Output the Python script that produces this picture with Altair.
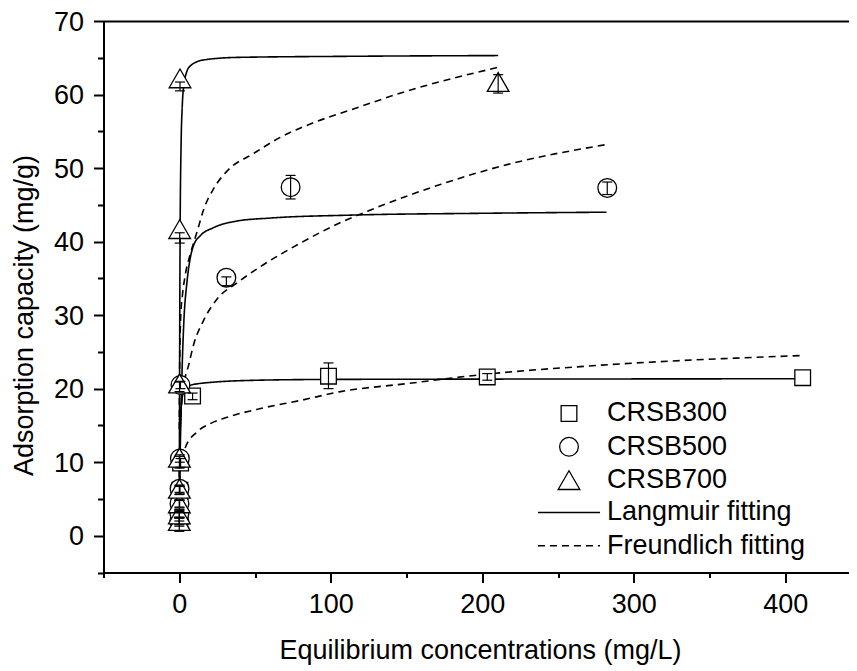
import altair as alt
import pandas as pd

FONT = "Liberation Sans"

# ---------------- data ----------------
series_names = ["CRSB300", "CRSB500", "CRSB700"]
fit_names = ["Langmuir fitting", "Freundlich fitting"]

# measured points (equilibrium concentration, adsorption capacity, error bar low/high)
x300 = [0.05, 0.1, 0.2, 0.4, 0.9, 8.8, 98.5, 203.3, 411.5]
q300 = [1.9, 2.9, 4.3, 6.2, 9.9, 19.0, 21.7, 21.6, 21.5]
lo300 = [1.3, 2.4, 3.8, 5.7, 9.3, 18.5, 20.0, 21.15, 21.5]
hi300 = [2.5, 3.4, 4.8, 6.7, 10.5, 19.4, 23.5, 22.05, 21.5]

x500 = [0.05, 0.1, 0.15, 0.2, 0.4, 0.8, 31.1, 73.5, 282.5]
q500 = [2.0, 3.0, 4.4, 6.4, 10.5, 20.5, 35.1, 47.4, 47.3]
lo500 = [1.5, 2.5, 3.9, 5.9, 10.0, 20.0, 34.0, 45.8, 46.4]
hi500 = [2.5, 3.5, 4.9, 6.9, 11.0, 21.0, 35.2, 49.0, 48.1]

x700 = [0.02, 0.04, 0.06, 0.08, 0.1, 0.2, 0.3, 0.5, 210.5]
q700 = [2.0, 2.9, 4.4, 6.4, 10.6, 20.7, 41.7, 62.2, 61.7]
lo700 = [0.6, 2.0, 3.6, 5.6, 9.2, 19.6, 39.8, 60.5, 60.2]
hi700 = [2.4, 3.3, 4.8, 6.8, 10.8, 20.9, 41.2, 61.7, 62.7]

# fitted curves
L300_x = [0.05, 0.3, 0.8, 1.5, 2.5, 4, 8, 11.7, 20.5, 42.6, 93, 200, 279, 410]
L300_q = [2.0, 9.5, 15.5, 18.0, 19.3, 20.0, 20.5, 20.65, 20.85, 21.1, 21.25, 21.3, 21.32, 21.35]

L500_x = [0.05, 0.4, 1.0, 1.8, 2.9, 5.1, 7.3, 9.5, 13.9, 22.7, 38.2, 60, 113, 200, 282]
L500_q = [1.5, 8.5, 15.0, 22.0, 28.5, 34.5, 37.8, 39.5, 40.8, 41.9, 42.8, 43.2, 43.6, 43.85, 44.0]

L700_x = [0.02, 0.2, 0.6, 1.2, 2.0, 3.0, 4.5, 7.3, 16, 38, 113, 210.5]
L700_q = [1.5, 20.0, 42.0, 53.0, 58.5, 61.3, 62.8, 63.9, 64.7, 65.05, 65.2, 65.3]

F300_x = [0.05, 0.5, 1.5, 4, 11.7, 20.5, 31.6, 53.6, 80, 106.6, 150.8, 194.9, 278.8, 410]
F300_q = [5.5, 8.5, 10.2, 12.0, 14.1, 15.25, 16.1, 17.3, 18.4, 19.6, 20.7, 21.8, 23.2, 24.5]

F500_x = [0.05, 0.5, 1.5, 3, 6.2, 9.5, 16.1, 25, 38.2, 53.6, 80, 106.6, 128.7, 172.8, 217, 282]
F500_q = [8.0, 14.0, 17.8, 20.5, 23.2, 26.0, 29.3, 32.2, 34.4, 36.6, 39.8, 42.6, 44.5, 47.8, 50.5, 53.2]

F700_x = [0.02, 0.2, 1, 2, 4, 7.3, 11.7, 16, 22.7, 31.6, 49.2, 66.9, 89, 113, 150.8, 210.4]
F700_q = [14.5, 22.0, 30.0, 32.5, 35.5, 38.3, 41.3, 44.3, 47.2, 49.6, 52.0, 54.2, 56.2, 57.9, 60.5, 63.7]

x_ticks = [-50, 0, 50, 100, 150, 200, 250, 300, 350, 400]
y_ticks = [-5, 0, 5, 10, 15, 20, 25, 30, 35, 40, 45, 50, 55, 60, 65, 70]

# ---------------- tables ----------------
pts_rows, err_rows, cap_rows = [], [], []
for name, xs, qs, los, his in [
    ("CRSB300", x300, q300, lo300, hi300),
    ("CRSB500", x500, q500, lo500, hi500),
    ("CRSB700", x700, q700, lo700, hi700),
]:
    for c, q, lo, hi in zip(xs, qs, los, his):
        pts_rows.append({"C": c, "q": q, "series": name})
        if hi - lo > 0:
            err_rows.append({"C": c, "q": lo, "hi": hi})
            cap_rows.append({"C": c, "q": lo})
            cap_rows.append({"C": c, "q": hi})
pts_df = pd.DataFrame(pts_rows)
err_df = pd.DataFrame(err_rows)
cap_df = pd.DataFrame(cap_rows)

fit_rows = []
for curve, fit, xs, qs in [
    ("L300", "Langmuir fitting", L300_x, L300_q),
    ("L500", "Langmuir fitting", L500_x, L500_q),
    ("L700", "Langmuir fitting", L700_x, L700_q),
    ("F300", "Freundlich fitting", F300_x, F300_q),
    ("F500", "Freundlich fitting", F500_x, F500_q),
    ("F700", "Freundlich fitting", F700_x, F700_q),
]:
    for c, q in zip(xs, qs):
        fit_rows.append({"C": c, "q": q, "curve": curve, "fit": fit})
fit_df = pd.DataFrame(fit_rows)

# ---------------- scales / axes ----------------
xscale = alt.Scale(domain=[-50, 442], nice=False, zero=False)
yscale = alt.Scale(domain=[-5, 70], nice=False, zero=False)

common_axis = dict(
    grid=False,
    domainColor="black",
    domainWidth=2,
    tickColor="black",
    tickWidth=2,
    labelColor="black",
    labelFont=FONT,
    labelFontSize=27,
    labelOverlap=False,
    labelFlush=False,
    titleColor="black",
    titleFont=FONT,
    titleFontSize=27,
    titleFontWeight="normal",
)

x_axis_bottom = alt.Axis(
    orient="bottom",
    values=x_ticks,
    labelExpr="datum.value % 100 === 0 ? datum.label : ''",
    tickSize={"condition": {"test": "datum.value % 100 === 0", "value": 10}, "value": 5},
    labelPadding=9,
    title="Equilibrium concentrations (mg/L)",
    titlePadding=19.8,
    titleX=376.5,
    **common_axis,
)
x_axis_top = alt.Axis(
    orient="top",
    labels=False,
    ticks=False,
    title=None,
    grid=False,
    domainColor="black",
    domainWidth=2,
)
y_axis = alt.Axis(
    orient="left",
    values=y_ticks,
    labelExpr="datum.value % 10 === 0 ? datum.label : ''",
    tickSize={"condition": {"test": "datum.value % 10 === 0", "value": 10}, "value": 6},
    labelPadding=10,
    labelOffset=1,
    title="Adsorption capacity (mg/g)",
    titlePadding=14.8,
    titleY=294,
    **common_axis,
)

shape_legend = alt.Legend(
    title=None,
    orient="none",
    legendX=452,
    legendY=379,
    padding=0,
    rowPadding=5.3,
    labelOffset=24.5,
    labelFont=FONT,
    labelFontSize=27,
    labelColor="black",
    labelLimit=400,
    symbolStrokeWidth=1.3,
)
line_legend = alt.Legend(
    title=None,
    orient="none",
    legendX=451,
    legendY=477,
    padding=0,
    rowPadding=5.3,
    labelOffset=23.5,
    labelFont=FONT,
    labelFontSize=27,
    labelColor="black",
    labelLimit=400,
    symbolType="M-2.3,0L2.3,0",
    symbolSize=729,
    symbolStrokeWidth=1.6,
)

# ---------------- layers ----------------
fits = alt.Chart(fit_df).mark_line(
    interpolate="monotone", color="black", strokeWidth=1.6
).encode(
    x=alt.X("C:Q", scale=xscale, axis=x_axis_bottom),
    y=alt.Y("q:Q", scale=yscale, axis=y_axis),
    strokeDash=alt.StrokeDash(
        "fit:N",
        scale=alt.Scale(domain=fit_names, range=[[1, 0], [7, 5]]),
        legend=line_legend,
    ),
    detail="curve:N",
)

points = alt.Chart(pts_df).mark_point(
    filled=False, fill="white", color="black",
    strokeWidth=1.3, opacity=1, fillOpacity=1
).encode(
    x=alt.X("C:Q", scale=xscale, axis=x_axis_top),
    y=alt.Y("q:Q", scale=yscale, axis=y_axis),
    shape=alt.Shape(
        "series:N",
        scale=alt.Scale(domain=series_names, range=["square", "circle", "triangle-up"]),
        legend=shape_legend,
    ),
    size=alt.Size(
        "series:N",
        scale=alt.Scale(type="ordinal", domain=series_names, range=[246, 350, 470]),
        legend=shape_legend,
    ),
)

err_lines = alt.Chart(err_df).mark_rule(color="black", strokeWidth=1.2).encode(
    x=alt.X("C:Q", scale=xscale, axis=None),
    y=alt.Y("q:Q", scale=yscale, axis=y_axis),
    y2="hi:Q",
)

err_caps = alt.Chart(cap_df).mark_tick(
    orient="horizontal", color="black", size=10, thickness=1.2, opacity=1
).encode(
    x=alt.X("C:Q", scale=xscale, axis=None),
    y=alt.Y("q:Q", scale=yscale, axis=y_axis),
)

chart = (
    alt.layer(fits, points, err_lines, err_caps)
    .resolve_axis(x="independent")
    .properties(
        width=745.4,
        height=551.5,
        padding={"left": 95.5, "top": 13, "right": 0, "bottom": 95.5},
        autosize=alt.AutoSizeParams(type="none"),
        background="white",
    )
    .configure(font=FONT)
    .configure_view(stroke=None)
)

chart.save("out.html", embed_options={"renderer": "svg", "actions": False})
